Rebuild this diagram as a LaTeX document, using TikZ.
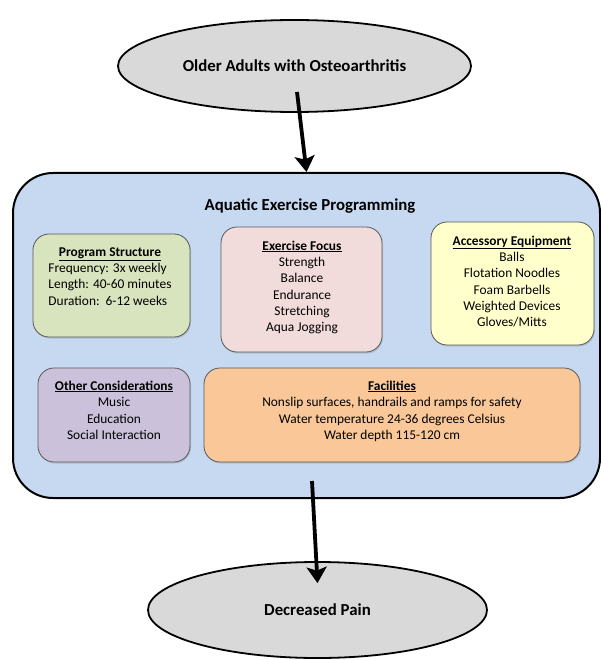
\documentclass[tikz,border=0pt]{standalone}
\usepackage{fontspec}
\setmainfont{Carlito}
\usetikzlibrary{shapes.geometric,arrows.meta,shadows}

\definecolor{ovalgray}{HTML}{D9D9D9}
\definecolor{programblue}{HTML}{C6D9F1}
\definecolor{structgreen}{HTML}{D7E4BD}
\definecolor{focuspink}{HTML}{F2DCDB}
\definecolor{equipyellow}{HTML}{FFFFCC}
\definecolor{otherpurple}{HTML}{CCC1DA}
\definecolor{facilorange}{HTML}{FAC898}

\begin{document}
\begin{tikzpicture}[x=1pt,y=-1pt,
    oval/.style={ellipse,draw,line width=1.8pt,fill=ovalgray,inner sep=0pt,font=\fontsize{16.8}{19}\selectfont\bfseries},
    panel/.style={draw,rounded corners=40pt,line width=2pt,fill=programblue,inner sep=0pt},
    card/.style={draw=black!65,rounded corners=16pt,line width=0.8pt,inner sep=0pt,
        drop shadow={shadow xshift=1pt,shadow yshift=-1.5pt,opacity=0.3}},
    cardtext/.style={anchor=north,inner sep=0pt,align=center,font=\fontsize{13.4}{16.3}\selectfont},
    flow/.style={line width=3.8pt,-{Stealth[length=16pt,width=20pt,inset=3.5pt]}}]
    \useasboundingbox (0,0) rectangle (601,660);

    \node[oval,minimum width=353,minimum height=92] (adults) at (294.5,66) {Older Adults with Osteoarthritis};
    \node[panel,minimum width=587,minimum height=325] (program) at (306.5,335.5) {};
    \node[anchor=base,inner sep=0pt,font=\fontsize{16.8}{19}\selectfont\bfseries] (programtitle) at (310,211) {Aquatic Exercise Programming};

    \node[card,fill=structgreen,minimum width=157,minimum height=103] (struct) at (111.5,285.5) {};
    \node[cardtext] (structtext) at (110,244.6) {\begin{tabular}{@{}l@{}}
        \multicolumn{1}{@{}c@{}}{\bfseries\underline{Program Structure}}\\
        Frequency: 3x weekly\\ Length: 40-60 minutes\\ Duration:\ \ 6-12 weeks\end{tabular}};

    \node[card,fill=focuspink,minimum width=161,minimum height=125] (focus) at (301.5,289.5) {};
    \node[cardtext] (focustext) at (302,240.5) {\textbf{\underline{Exercise Focus}}\\ Strength\\ Balance\\ Endurance\\ Stretching\\ Aqua Jogging};

    \node[card,fill=equipyellow,minimum width=163,minimum height=123] (equip) at (512.5,283.5) {};
    \node[cardtext] (equiptext) at (512,235.5) {\textbf{\underline{Accessory Equipment}}\\ Balls\\ Flotation Noodles\\ Foam Barbells\\ Weighted Devices\\ Gloves/Mitts};

    \node[card,fill=otherpurple,minimum width=152,minimum height=94] (other) at (114,415) {};
    \node[cardtext,font=\fontsize{13.4}{16.5}\selectfont] (othertext) at (114,380.5) {\textbf{\underline{Other Considerations}}\\ Music\\ Education\\ Social Interaction};

    \node[card,fill=facilorange,minimum width=376,minimum height=94] (facil) at (392,415) {};
    \node[cardtext,font=\fontsize{13.4}{16.5}\selectfont] (faciltext) at (392,380.5) {\textbf{\underline{Facilities}}\\ Nonslip surfaces, handrails and ramps for safety\\ Water temperature 24-36 degrees Celsius\\ Water depth 115-120 cm};

    \node[oval,minimum width=339,minimum height=96] (pain) at (317.5,610) {Decreased Pain};

    \coordinate (fromadults) at ([xshift=2.5pt,yshift=-26pt]adults.center);
    \coordinate (fromprog) at ([xshift=5.5pt,yshift=18pt]program.south);
    \coordinate (intopain) at ([yshift=-22pt]pain.north);
    \draw[flow] (fromadults) -- (program.north);
    \draw[flow] (fromprog) -- (intopain);
\end{tikzpicture}
\end{document}
